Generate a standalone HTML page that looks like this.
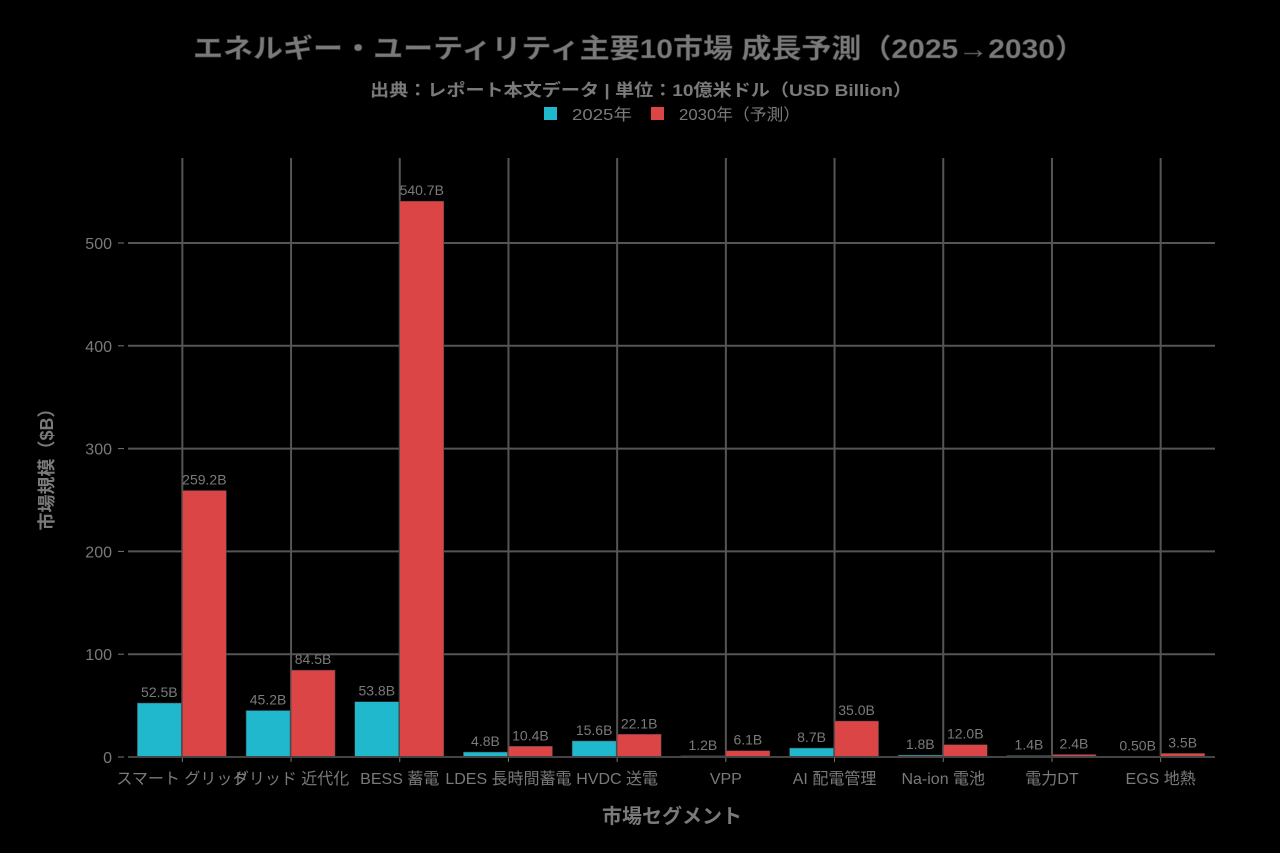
<!DOCTYPE html>
<html><head><meta charset="utf-8"><style>
html,body{margin:0;padding:0;background:#000;}
svg{display:block;font-family:"Liberation Sans","Noto Sans CJK JP",sans-serif;}
</style></head><body>
<svg id="chart" width="1280" height="853">
<rect width="1280" height="853" fill="#000"/>
<text x="193" y="58" textLength="892" lengthAdjust="spacingAndGlyphs" font-size="27" font-weight="bold" fill="#7a7a7a" stroke="#333" stroke-width="0.6">エネルギー・ユーティリティ主要10市場 成長予測（2025→2030）</text>
<text x="370" y="96" textLength="542" lengthAdjust="spacingAndGlyphs" font-size="17" font-weight="bold" fill="#7a7a7a">出典：レポート本文データ | 単位：10億米ドル（USD Billion）</text>
<g>
<g><rect x="544" y="107" width="13" height="13" fill="#1FB8CD"/><text x="572" y="120" textLength="60" lengthAdjust="spacingAndGlyphs" font-size="16" fill="#7a7a7a">2025年</text></g>
<g><rect x="651" y="107" width="13" height="13" fill="#DB4545"/><text x="679" y="120" textLength="121" lengthAdjust="spacingAndGlyphs" font-size="16" fill="#7a7a7a">2030年（予測）</text></g>
</g>
<g id="grid"></g>
<g id="bars"></g>
<g id="axes"></g>
<text x="672" y="823" text-anchor="middle" font-size="20" font-weight="bold" fill="#7a7a7a">市場セグメント</text>
<text transform="translate(53,465) rotate(-90)" text-anchor="middle" font-size="18" font-weight="bold" fill="#7a7a7a">市場規模（$B）</text>
</svg>
<script>
const categories=["スマート グリッド","グリッド 近代化","BESS 蓄電","LDES 長時間蓄電","HVDC 送電","VPP","AI 配電管理","Na-ion 電池","電力DT","EGS 地熱"];
const values2025=[52.5,45.2,53.8,4.8,15.6,1.2,8.7,1.8,1.4,0.5];
const values2030=[259.2,84.5,540.7,10.4,22.1,6.1,35.0,12.0,2.4,3.5];
const labels2025=["52.5B","45.2B","53.8B","4.8B","15.6B","1.2B","8.7B","1.8B","1.4B","0.50B"];
const labels2030=["259.2B","84.5B","540.7B","10.4B","22.1B","6.1B","35.0B","12.0B","2.4B","3.5B"];
const yTicks=[0,100,200,300,400,500];
const NS="http://www.w3.org/2000/svg";
const L=128,R=1215,T=158,Y0=757,pxPer=(757-243)/500;
const step=(R-L)/categories.length;
const y=v=>Y0-v*pxPer;
const xc=i=>L+step*(i+0.5);
function mk(tag,attrs,parent){const e=document.createElementNS(NS,tag);for(const k in attrs)e.setAttribute(k,attrs[k]);parent.appendChild(e);return e;}
const grid=document.getElementById('grid'),bars=document.getElementById('bars'),axes=document.getElementById('axes');
yTicks.forEach(t=>{
 if(t>0){const g=mk('line',{x1:L,x2:R,y1:y(t),y2:y(t),stroke:'#555','stroke-width':2},grid);
 
 }
 const tx=mk('text',{x:L-16,y:y(t)+6,'text-anchor':'end','font-size':16,fill:'#7a7a7a'},axes);tx.textContent=t;
 
 
 mk('line',{x1:L-10,x2:L-4,y1:y(t),y2:y(t),stroke:'#777'},axes);
});
categories.forEach((c,i)=>{
 const g=mk('line',{x1:xc(i),x2:xc(i),y1:T,y2:Y0,stroke:'#555','stroke-width':2},grid);
 
 
 const bw=44;
 const b1=mk('rect',{x:xc(i)-bw-1,y:y(values2025[i]),width:bw,height:Y0-y(values2025[i]),fill:'#1FB8CD',stroke:'#444','stroke-width':0.5},bars);
 
 
 const b2=mk('rect',{x:xc(i),y:y(values2030[i]),width:bw,height:Y0-y(values2030[i]),fill:'#DB4545',stroke:'#444','stroke-width':0.5},bars);
 
 
 const l1=mk('text',{x:xc(i)-bw/2-1,y:y(values2025[i])-6,'text-anchor':'middle','font-size':14,fill:'#7a7a7a'},bars);l1.textContent=labels2025[i];
 
 
 const l2=mk('text',{x:xc(i)+bw/2,y:y(values2030[i])-6,'text-anchor':'middle','font-size':14,fill:'#7a7a7a'},bars);l2.textContent=labels2030[i];
 
 
 const cl=mk('text',{x:xc(i),y:Y0+27,'text-anchor':'middle','font-size':16,fill:'#7a7a7a'},axes);cl.textContent=c;
 
 
 mk('line',{x1:xc(i),x2:xc(i),y1:Y0,y2:Y0+5,stroke:'#777'},axes);
});
const ax=mk('line',{x1:L,x2:R,y1:Y0,y2:Y0,stroke:'#444','stroke-width':2},axes);


</script>
</body></html>
